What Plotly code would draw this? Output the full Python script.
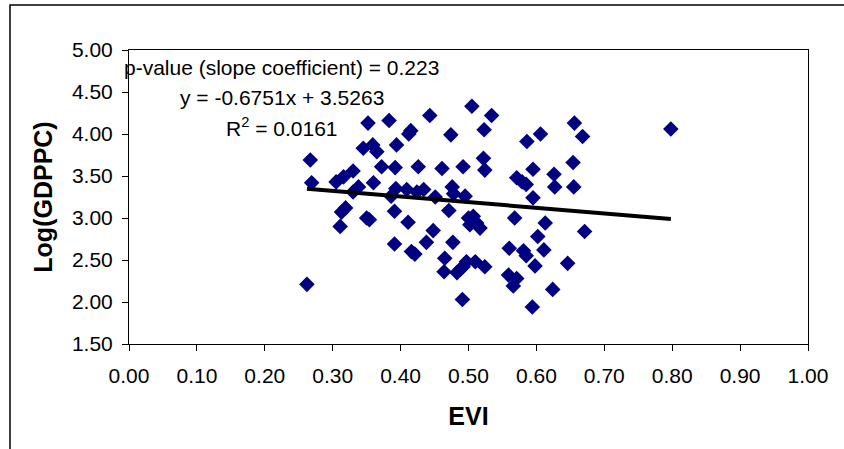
import plotly.graph_objects as go

# EVI (x) and Log(GDPPC) (y) values
evi = [0.262, 0.267, 0.269, 0.305, 0.316, 0.330, 0.311, 0.313, 0.319, 0.330,
       0.338, 0.352, 0.345, 0.359, 0.365, 0.350, 0.354, 0.360, 0.372, 0.383,
       0.394, 0.392, 0.386, 0.391, 0.393, 0.391, 0.409, 0.412, 0.415, 0.411,
       0.416, 0.421, 0.426, 0.424, 0.434, 0.443, 0.438, 0.451, 0.448, 0.461,
       0.465, 0.464, 0.471, 0.476, 0.474, 0.478, 0.477, 0.483, 0.492, 0.495,
       0.491, 0.488, 0.497, 0.505, 0.500, 0.507, 0.502, 0.512, 0.517, 0.522,
       0.523, 0.524, 0.524, 0.534, 0.568, 0.560, 0.559, 0.566, 0.571, 0.571,
       0.579, 0.585, 0.581, 0.585, 0.586, 0.595, 0.595, 0.598, 0.594, 0.602,
       0.606, 0.611, 0.613, 0.624, 0.626, 0.627, 0.646, 0.654, 0.655, 0.656,
       0.668, 0.671, 0.798, 0.492, 0.510]
log_gdppc = [2.21, 3.69, 3.42, 3.43, 3.49, 3.56, 2.90, 3.07, 3.12, 3.31,
             3.37, 4.13, 3.83, 3.87, 3.79, 3.00, 2.98, 3.42, 3.61, 4.16,
             3.87, 3.60, 3.26, 3.08, 3.35, 2.69, 3.34, 4.00, 4.04, 2.95,
             2.60, 2.57, 3.61, 3.31, 3.34, 4.22, 2.71, 3.25, 2.85, 3.59,
             2.52, 2.36, 3.09, 3.37, 3.99, 3.29, 2.71, 2.35, 3.61, 3.26,
             2.03, 2.39, 2.48, 4.33, 3.00, 3.02, 2.92, 2.94, 2.88, 3.71,
             4.05, 2.42, 3.57, 4.22, 3.00, 2.64, 2.32, 2.19, 2.28, 3.48,
             3.43, 3.40, 2.61, 2.55, 3.91, 3.58, 3.24, 2.43, 1.94, 2.78,
             4.00, 2.62, 2.94, 2.15, 3.52, 3.37, 2.46, 3.66, 3.37, 4.13,
             3.97, 2.84, 4.06, 2.42, 2.48]

# Trendline coefficients as printed on the chart
slope = -0.6751
intercept = 3.5263
trend_x = [min(evi), max(evi)]
trend_y = [slope * v + intercept for v in trend_x]

x_ticks = [0.0, 0.1, 0.2, 0.3, 0.4, 0.5, 0.6, 0.7, 0.8, 0.9, 1.0]
y_ticks = [1.5, 2.0, 2.5, 3.0, 3.5, 4.0, 4.5, 5.0]

annot_lines = ["p-value (slope coefficient) = 0.223",
               "y = -0.6751x + 3.5263",
               "R<sup>2</sup> = 0.0161"]

FONT = "Liberation Sans, Arial, sans-serif"

fig = go.Figure()
fig.add_trace(go.Scatter(
    x=evi, y=log_gdppc, mode="markers",
    marker=dict(symbol="diamond", size=12, color="#000080",
                line=dict(width=0)),
    showlegend=False, hoverinfo="x+y"))
fig.add_trace(go.Scatter(
    x=trend_x, y=trend_y, mode="lines",
    line=dict(color="black", width=4),
    showlegend=False, hoverinfo="skip"))

axis_common = dict(
    showgrid=False, zeroline=False, showline=True, linecolor="black",
    linewidth=1, mirror=True, ticks="outside", ticklen=6, tickwidth=1,
    tickcolor="black", tickfont=dict(family=FONT, size=21, color="black"))

fig.update_xaxes(range=[0, 1], tickvals=x_ticks,
                 ticktext=[f"{v:.2f}" for v in x_ticks],
                 ticklabelstandoff=7,
                 title=dict(text="<b>EVI</b>", font=dict(family=FONT, size=25, color="black"),
                            standoff=21),
                 **axis_common)
fig.update_yaxes(range=[1.5, 5.0], tickvals=y_ticks,
                 ticktext=[f"{v:.2f}" for v in y_ticks],
                 ticklabelstandoff=5,
                 title=dict(text="<b>Log(GDPPC)</b>", font=dict(family=FONT, size=25, color="black"),
                            standoff=12),
                 **axis_common)

ys = [0.942, 0.840, 0.738]
for txt, yy in zip(annot_lines, ys):
    fig.add_annotation(x=0.2253, y=yy, xref="paper", yref="paper", text=txt,
                       showarrow=False, xanchor="center", yanchor="middle",
                       font=dict(family=FONT, size=21, color="black"))

# chart-area frame
fig.add_shape(type="rect", xref="paper", yref="paper",
              x0=(10 - 129) / 679, x1=(860 - 129) / 679,
              y0=(344 - 470) / 294, y1=(344 - 5) / 294,
              line=dict(color="black", width=1.5), fillcolor="rgba(0,0,0,0)", layer="below")

fig.update_layout(
    width=844, height=449,
    margin=dict(l=129, r=36, t=50, b=105),
    paper_bgcolor="white", plot_bgcolor="white",
    font=dict(family=FONT, color="black"),
)

fig.write_html("out.html", include_plotlyjs=True, full_html=True)
